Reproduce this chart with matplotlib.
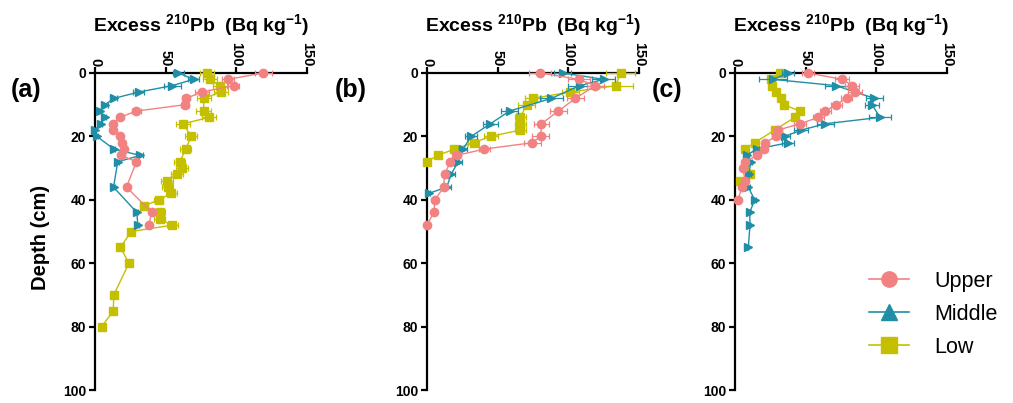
import matplotlib
matplotlib.use("Agg")
import matplotlib.pyplot as plt
from matplotlib.lines import Line2D

plt.rcParams['font.family'] = ['Liberation Sans', 'DejaVu Sans']
plt.rcParams['mathtext.fontset'] = 'custom'
plt.rcParams['mathtext.rm'] = 'Liberation Sans:bold'
plt.rcParams['mathtext.bf'] = 'Liberation Sans:bold'
plt.rcParams['mathtext.default'] = 'bf'

# ---------------- data ----------------
series_names = ["Upper", "Middle", "Low"]
x_ticks = [0, 50, 100, 150]
y_ticks = [0, 20, 40, 60, 80, 100]
panel_labels = ["(a)", "(b)", "(c)"]

# panel (a)
a_up_depth = [0, 2, 4, 6, 8, 10, 12, 14, 16, 18, 20, 22, 24, 26, 28, 36, 44, 48]
a_up_val = [119, 94, 98, 75.6, 64.5, 63.8, 29.3, 17.6, 12.4, 12.4, 17.8, 19, 20.2, 18.5, 29.3, 22.3, 40.1, 38]
a_up_err = [6, 4, 4, 5, 3, 3, 3, 2, 1, 1, 1, 1, 1, 1, 1, 1, 1, 1]

a_mid_depth = [0, 2, 4, 6, 8, 10, 12, 14, 16, 18, 20, 24, 26, 28, 36, 44, 48]
a_mid_val = [59, 69.7, 54.5, 31, 13.4, 7, 3.5, 7, 4, 0, 1.3, 13.4, 32, 16.1, 13.1, 29.6, 30.3]
a_mid_err = [4, 4, 6, 4, 2, 2, 1, 1, 1, 1, 1, 1, 2, 1, 1, 1, 1]

a_low_depth = [0, 2, 4, 6, 8, 12, 14, 16, 20, 24, 28, 30, 32, 34, 36, 38, 40, 42, 44, 46, 48, 50, 55, 60, 70, 75, 80]
a_low_val = [79.5, 81.5, 88.5, 89, 77, 76.8, 80.8, 62.5, 68, 64.2, 60, 61.5, 58, 51, 51.4, 54, 45, 34.5, 45.8, 45.8, 54.6, 25.6, 18, 24, 13.3, 12.9, 4.8]
a_low_err = [5, 5, 5, 5, 5, 5, 5, 5, 4, 4, 4, 4, 4, 4, 4, 4, 3, 3, 4, 4, 4, 0, 0, 0, 0, 0, 0]

# panel (b)
b_up_depth = [0, 2, 4, 8, 12, 16, 20, 22, 24, 26, 28, 32, 36, 40, 44, 48]
b_up_val = [80, 107.5, 119, 105, 93, 81, 80.4, 74.5, 40.5, 21, 16.5, 12.4, 11.8, 5.7, 4.7, 0]
b_up_err = [8, 8, 6, 6, 6, 5, 6, 6, 4, 3, 2, 2, 2, 1, 1, 1]

b_mid_depth = [0, 2, 4, 8, 12, 16, 20, 24, 28, 32, 36, 38]
b_mid_val = [96, 125, 108, 88, 58.4, 44.9, 31.2, 25.5, 22, 17, 14, 1.1]
b_mid_err = [6, 8, 8, 8, 6, 5, 4, 3, 3, 3, 3, 1]

b_low_depth = [0, 4, 6, 8, 10, 14, 16, 18, 20, 22, 24, 26, 28]
b_low_val = [137, 133.5, 101.5, 75, 70.5, 66, 66, 66, 45, 33, 19.4, 7.6, 0]
b_low_err = [10, 12, 6, 6, 6, 4, 4, 4, 5, 4, 3, 2, 1]

# panel (c)
c_up_depth = [0, 2, 4, 6, 8, 10, 12, 14, 16, 18, 20, 22, 24, 26, 28, 30, 34, 36, 40]
c_up_val = [51.6, 76, 83, 85, 79, 71.6, 64, 59, 46, 30.5, 29, 21, 20.5, 15.8, 6.9, 5.7, 7, 5, 2.1]
c_up_err = [4, 5, 5, 5, 4, 4, 4, 4, 4, 3, 3, 2, 2, 2, 1, 1, 1, 1, 1]

c_mid_depth = [0, 2, 4, 8, 10, 14, 16, 18, 20, 22, 24, 26, 28, 32, 36, 40, 44, 48, 55]
c_mid_val = [37.6, 27, 71.6, 98.6, 97, 102.6, 64, 47, 35.2, 37.6, 15.3, 8.2, 11, 10, 9.4, 13.9, 10.4, 10.6, 9.4]
c_mid_err = [4, 10, 8, 6, 5, 8, 6, 5, 4, 4, 2, 2, 1, 1, 1, 1, 0, 0, 0]

c_low_depth = [0, 2, 4, 6, 8, 10, 12, 14, 18, 22, 24, 32, 34]
c_low_val = [31.7, 25.8, 26.5, 29.3, 32.9, 34.7, 45.8, 42.3, 28, 13.9, 6.9, 10.4, 3.3]
c_low_err = [2, 2, 2, 2, 2, 2, 2, 2, 2, 1, 1, 1, 1]

panels = [
    [(a_up_depth, a_up_val, a_up_err), (a_mid_depth, a_mid_val, a_mid_err), (a_low_depth, a_low_val, a_low_err)],
    [(b_up_depth, b_up_val, b_up_err), (b_mid_depth, b_mid_val, b_mid_err), (b_low_depth, b_low_val, b_low_err)],
    [(c_up_depth, c_up_val, c_up_err), (c_mid_depth, c_mid_val, c_mid_err), (c_low_depth, c_low_val, c_low_err)],
]

colors = ["#F28282", "#1F8EA6", "#C4C000"]
markers = ["o", ">", "s"]
legend_markers = ["o", "^", "s"]

# ---------------- figure ----------------
W, H = 1013, 403
fig = plt.figure(figsize=(W / 100, H / 100), dpi=100)

lefts_px = [95, 427, 735]
ax_w_px = 212
top_px, bot_px = 73, 390
label_x_px = [26, 351, 667]

title = r'Excess $^{210}$Pb  (Bq kg$^{-1}$)'

for i, (lx, pdata) in enumerate(zip(lefts_px, panels)):
    ax = fig.add_axes([lx / W, 1 - bot_px / H, ax_w_px / W, (bot_px - top_px) / H])
    for j in [2, 1, 0]:
        d, v, e = pdata[j]
        ax.errorbar(v, d, xerr=e, color=colors[j], marker=markers[j], markersize=6,
                    linewidth=1.0, elinewidth=0.9, capsize=2.5, capthick=0.9,
                    ecolor=colors[j], clip_on=False, zorder=3 + (2 - j))
    ax.set_xlim(0, 150)
    ax.set_ylim(100, 0)
    ax.xaxis.tick_top()
    ax.set_xticks(x_ticks)
    ax.set_yticks(y_ticks)
    ax.set_xticklabels([str(t) for t in x_ticks], rotation=-90, fontsize=10.5,
                       fontweight='bold', va='bottom', ha='center')
    ax.set_yticklabels([str(t) for t in y_ticks], fontsize=10, fontweight='bold')
    for s in ['right', 'bottom']:
        ax.spines[s].set_visible(False)
    for s in ['top', 'left']:
        ax.spines[s].set_linewidth(1.6)
    ax.tick_params(axis='both', direction='out', length=4.5, width=1.6)
    ax.tick_params(axis='x', pad=0.5)
    ax.tick_params(axis='y', pad=2)
    ax.patch.set_alpha(0)
    fig.text((lx + ax_w_px / 2) / W, 1 - 25 / H, title, ha='center', va='center',
             fontsize=14, fontweight='bold')
    fig.text(label_x_px[i] / W, 1 - 90 / H, panel_labels[i], ha='center', va='center',
             fontsize=18, fontweight='bold')

fig.text(40 / W, 1 - 237 / H, "Depth (cm)", rotation=90, ha='center', va='center',
         fontsize=14.5, fontweight='bold')

handles = [Line2D([0], [0], color=colors[k], marker=legend_markers[k], markersize=11,
                  linewidth=1.2) for k in range(3)]
fig.legend(handles, series_names, loc='upper left', bbox_to_anchor=(869 / W, 1 - 271 / H),
           frameon=False, fontsize=15.5, borderpad=0, borderaxespad=0, handlelength=1.85,
           handletextpad=1.2, labelspacing=0.55)

fig.savefig("out.png", dpi=100)
